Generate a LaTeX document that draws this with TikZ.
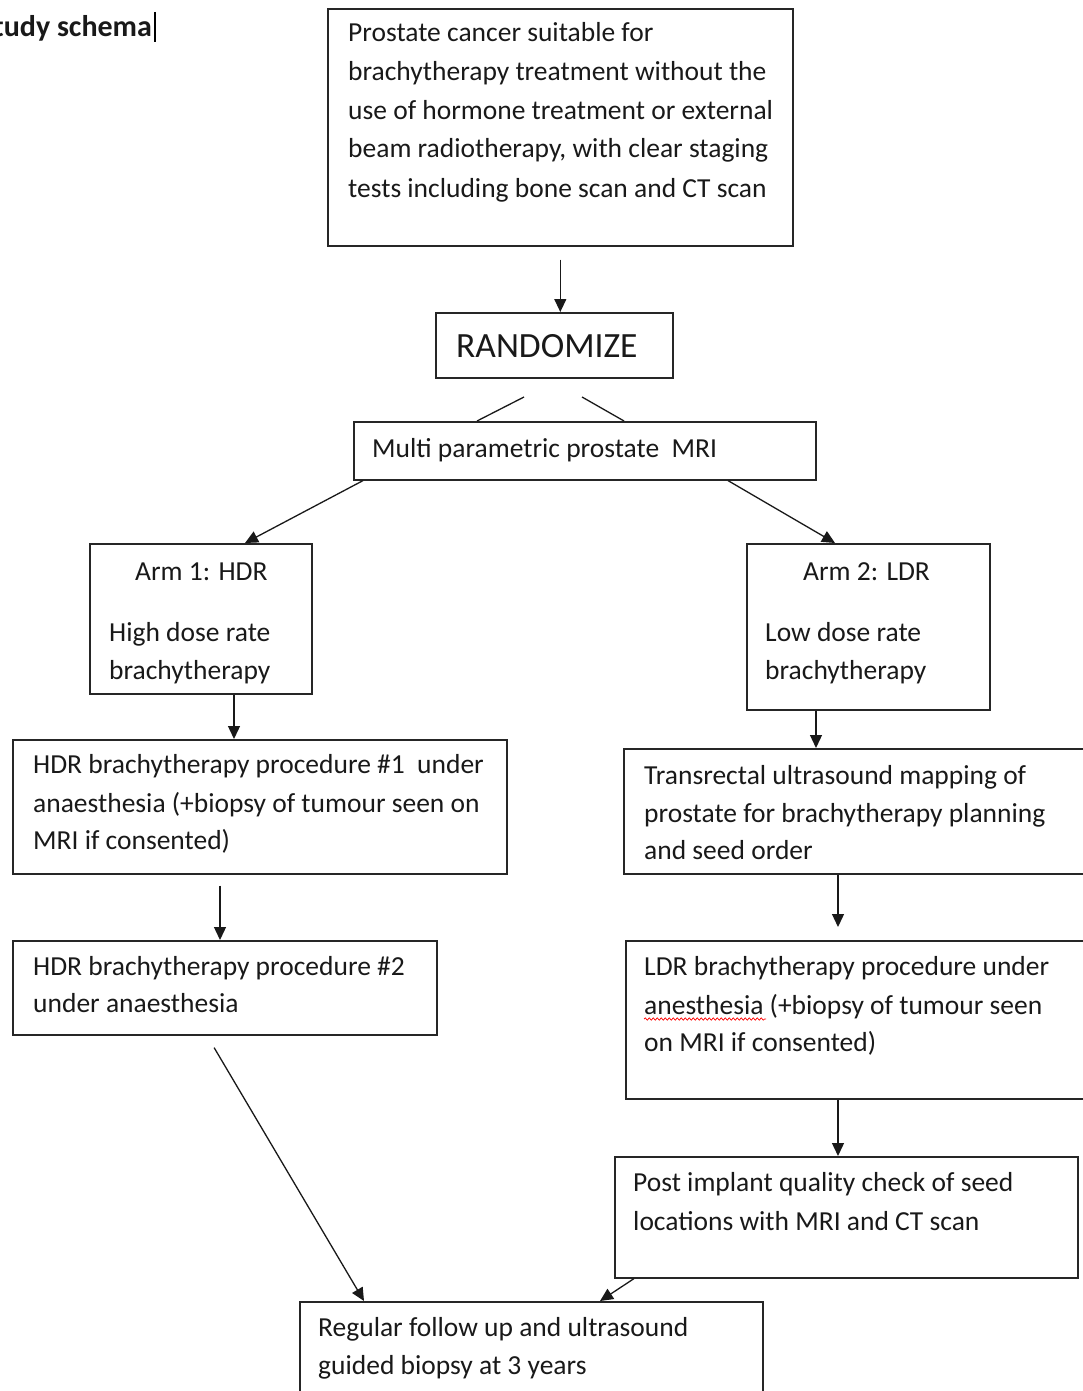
\documentclass[tikz,border=0pt]{standalone}
\usepackage{fontspec}
\setmainfont{Carlito}
\usetikzlibrary{arrows.meta,calc,decorations.pathmorphing}
\begin{document}
\begin{tikzpicture}[x=1pt,y=-1pt,
 box/.style={draw=black!85, line width=1.6pt, inner sep=0pt, anchor=north west},
 ln/.style={anchor=base west, inner sep=0pt, font=\fontsize{27.5}{38}\selectfont, text=black!90},
 arr/.style={draw=black!90, line width=1.3pt, -{Triangle[length=13pt,width=12pt]}},
 plain/.style={draw=black!90, line width=1.3pt},
]
\useasboundingbox (0,0) rectangle (1083,1391);
\clip (0,0) rectangle (1083,1391);

% title
\node[ln, font=\fontsize{30}{38}\selectfont\bfseries] (title) at (-21,37) {Study schema};
\draw[line width=2.5pt] (155,12) -- (155,42);

% boxes
\node[box, minimum width=465pt, minimum height=237pt] (b1) at (327,8) {};
\node[box, minimum width=237pt, minimum height=65pt] (rnd) at (435,312) {};
\node[box, minimum width=462pt, minimum height=58pt] (mri) at (353,421) {};
\node[box, minimum width=222pt, minimum height=150pt] (a1) at (89,543) {};
\node[box, minimum width=243pt, minimum height=166pt] (a2) at (746,543) {};
\node[box, minimum width=494pt, minimum height=134pt] (h1) at (12,739) {};
\node[box, minimum width=424pt, minimum height=94pt] (h2) at (12,940) {};
\node[box, minimum width=480pt, minimum height=125pt] (tr) at (623,748) {};
\node[box, minimum width=480pt, minimum height=158pt] (ldr) at (625,940) {};
\node[box, minimum width=463pt, minimum height=121pt] (post) at (614,1156) {};
\node[box, minimum width=463pt, minimum height=110pt] (reg) at (299,1301) {};

% texts
\node[ln] (t1a) at (348,42) {Prostate cancer suitable for};
\node[ln] (t1b) at (348,81) {brachytherapy treatment without the};
\node[ln] (t1c) at (348,120) {use of hormone treatment or external};
\node[ln] (t1d) at (348,158) {beam radiotherapy, with clear staging};
\node[ln] (t1e) at (348,197) {tests including bone scan and CT scan};

\node[ln, font=\fontsize{35.5}{44}\selectfont] (trnd) at (456,357) {RANDOMIZE};
\node[ln] (tmri) at (372,457) {Multi parametric prostate\ \ MRI};

\node[ln] (ta1a) at (135,580) {Arm 1: HDR};
\node[ln] (ta1b) at (109,641) {High dose rate};
\node[ln] (ta1c) at (109,679) {brachytherapy};

\node[ln] (ta2a) at (803,580) {Arm 2: LDR};
\node[ln] (ta2b) at (765,641) {Low dose rate};
\node[ln] (ta2c) at (765,679) {brachytherapy};

\node[ln] (th1a) at (33,773) {HDR brachytherapy procedure \#1\ \ under};
\node[ln] (th1b) at (33,812) {anaesthesia (+biopsy of tumour seen on};
\node[ln] (th1c) at (33,849) {MRI if consented)};

\node[ln] (th2a) at (33,975) {HDR brachytherapy procedure \#2};
\node[ln] (th2b) at (33,1012) {under anaesthesia};

\node[ln] (ttra) at (644,784) {Transrectal ultrasound mapping of};
\node[ln] (ttrb) at (644,822) {prostate for brachytherapy planning};
\node[ln] (ttrc) at (644,859) {and seed order};

\node[ln] (tla) at (644,975) {LDR brachytherapy procedure under};
\node[ln] (tlb) at (644,1014) {anesthesia (+biopsy of tumour seen};
\node[ln] (tlc) at (644,1051) {on MRI if consented)};
\coordinate (wavyA) at (644,1019);
\coordinate (wavyB) at (766,1019);
\draw[red, line width=0.7pt, decorate, decoration={snake, segment length=4pt, amplitude=1.2pt}] (wavyA) -- (wavyB);

\node[ln] (tpa) at (633,1191) {Post implant quality check of seed};
\node[ln] (tpb) at (633,1230) {locations with MRI and CT scan};

\node[ln] (tra) at (318,1336) {Regular follow up and ultrasound};
\node[ln] (trb) at (318,1374) {guided biopsy at 3 years};

% connectors
\draw[arr, shorten <=13pt] (b1.south) -- (b1.south |- rnd.north);
\coordinate (rl1) at (524,397); \coordinate (rl2) at (477,421);
\coordinate (rr1) at (582,397); \coordinate (rr2) at (624,421);
\draw[plain] (rl1) -- (rl2);
\draw[plain] (rr1) -- (rr2);
\draw[arr] ($(mri.south west)+(10,0)$) -- ($(a1.north west)+(156,0)$);
\draw[arr] ($(mri.south west)+(375,0)$) -- ($(a2.north west)+(89,0)$);
\draw[arr] ($(a1.south west)+(145,0)$) -- ($(h1.north west)+(222,0)$);
\draw[arr, shorten <=11pt] ($(h1.south west)+(208,0)$) -- ($(h2.north west)+(208,0)$);
\draw[arr, shorten <=14pt] ($(h2.south west)+(195,0)$) -- ($(reg.north west)+(65,0)$);
\draw[arr] ($(a2.south west)+(70,0)$) -- ($(tr.north west)+(193,0)$);
\draw[arr, shorten >=13pt] ($(tr.south west)+(215,0)$) -- ($(ldr.north west)+(213,0)$);
\draw[arr] ($(ldr.south west)+(213,0)$) -- ($(post.north west)+(224,0)$);
\draw[arr] ($(post.south west)+(20,0)$) -- ($(reg.north west)+(301,0)$);
\end{tikzpicture}
\end{document}
